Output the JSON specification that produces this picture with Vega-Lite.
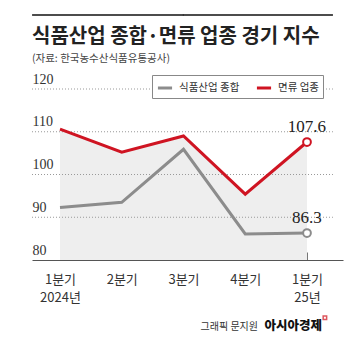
{
  "$schema": "https://vega.github.io/schema/vega-lite/v6.json",
  "width": 311,
  "height": 171,
  "autosize": {"type": "none"},
  "padding": {"left": 32, "top": 89, "right": 8, "bottom": 99},
  "background": "white",
  "config": {"view": {"stroke": null}},
  "datasets": {
    "series": [
      {"q": 0, "series": "식품산업 종합", "value": 92.3},
      {"q": 1, "series": "식품산업 종합", "value": 93.5},
      {"q": 2, "series": "식품산업 종합", "value": 105.9},
      {"q": 3, "series": "식품산업 종합", "value": 86.1},
      {"q": 4, "series": "식품산업 종합", "value": 86.3},
      {"q": 0, "series": "면류 업종", "value": 110.6},
      {"q": 1, "series": "면류 업종", "value": 105.2},
      {"q": 2, "series": "면류 업종", "value": 109.0},
      {"q": 3, "series": "면류 업종", "value": 95.4},
      {"q": 4, "series": "면류 업종", "value": 107.6}
    ],
    "rules": [
      {"kind": "grid", "v": 90, "x0": -0.4534, "x1": 4.42},
      {"kind": "grid", "v": 100, "x0": -0.4534, "x1": 4.42},
      {"kind": "grid", "v": 110, "x0": -0.4534, "x1": 4.42},
      {"kind": "grid", "v": 120, "x0": -0.4534, "x1": 4.42},
      {"kind": "top", "v": 137.3, "x0": -0.452, "x1": 2.0},
      {"kind": "top", "v": 137.3, "x0": 1.99, "x1": 4.42}
    ]
  },
  "layer": [
    {
      "data": {"name": "series"},
      "transform": [{"filter": "datum.series == '면류 업종'"}],
      "mark": {"type": "area", "color": "#eeeeee", "opacity": 1},
      "encoding": {
        "x": {
          "field": "q",
          "type": "quantitative",
          "scale": {"domain": [-0.4534, 4.583], "nice": false, "zero": false},
          "axis": {
            "values": [0, 1, 2, 3, 4],
            "title": null,
            "grid": false,
            "domainColor": "#555555",
            "domainWidth": 1,
            "tickColor": "#777777",
            "tickSize": -8,
            "labelPadding": 21,
            "labelExpr": "datum.value == 0 ? ['1분기', '2024년'] : datum.value == 4 ? ['1분기', '25년'] : (datum.value + 1) + '분기'",
            "labelFont": "Noto Sans CJK KR",
            "labelFontSize": 13,
            "labelColor": "#333333",
            "labelLineHeight": 18,
            "labelBaseline": "top",
            "labelFlush": false
          }
        },
        "y": {
          "field": "value",
          "type": "quantitative",
          "scale": {"domain": [80, 120], "nice": false, "zero": false},
          "axis": {
            "values": [80, 90, 100, 110, 120],
            "title": null,
            "grid": false,
            "domain": false,
            "ticks": false,
            "labelAlign": "left",
            "labelPadding": 0,
            "labelBaseline": "alphabetic",
            "labelOffset": -6,
            "labelFont": "Liberation Sans Narrow",
            "labelFontSize": 14,
            "labelColor": "#333333"
          }
        },
        "y2": {"datum": 80}
      }
    },
    {
      "data": {"name": "rules"},
      "transform": [{"filter": "datum.kind == 'grid'"}],
      "mark": {"type": "rule", "color": "#999999", "strokeWidth": 1, "strokeDash": [1, 2]},
      "encoding": {
        "x": {"field": "x0", "type": "quantitative"},
        "x2": {"field": "x1"},
        "y": {"field": "v", "type": "quantitative"}
      }
    },
    {
      "data": {"name": "rules"},
      "transform": [{"filter": "datum.kind == 'top'"}],
      "mark": {"type": "rule", "color": "#111111", "strokeWidth": 1.5},
      "encoding": {
        "x": {"field": "x0", "type": "quantitative"},
        "x2": {"field": "x1"},
        "y": {"field": "v", "type": "quantitative"}
      }
    },
    {
      "data": {"name": "series"},
      "mark": {"type": "line", "strokeWidth": 3},
      "encoding": {
        "x": {"field": "q", "type": "quantitative"},
        "y": {"field": "value", "type": "quantitative"},
        "color": {
          "field": "series",
          "type": "nominal",
          "scale": {"domain": ["식품산업 종합", "면류 업종"], "range": ["#8c8c8c", "#cf1422"]},
          "legend": {
            "orient": "none",
            "legendX": 120,
            "legendY": -14,
            "direction": "horizontal",
            "title": null,
            "strokeColor": "#888888",
            "fillColor": "white",
            "padding": 4,
            "symbolType": "stroke",
            "symbolStrokeWidth": 3,
            "symbolSize": 200,
            "labelFont": "Noto Sans CJK KR",
            "labelFontSize": 10.5,
            "labelColor": "#333333",
            "labelOffset": 5,
            "columnPadding": 10
          }
        }
      }
    },
    {
      "data": {"name": "series"},
      "transform": [{"filter": "datum.q == 4"}],
      "mark": {"type": "point", "filled": true, "fill": "white", "strokeWidth": 2, "size": 60, "opacity": 1},
      "encoding": {
        "x": {"field": "q", "type": "quantitative"},
        "y": {"field": "value", "type": "quantitative"},
        "stroke": {"field": "series", "type": "nominal", "scale": {"domain": ["식품산업 종합", "면류 업종"], "range": ["#8c8c8c", "#cf1422"]}, "legend": null}
      }
    },
    {
      "data": {"name": "series"},
      "transform": [{"filter": "datum.q == 4"}],
      "mark": {"type": "text", "font": "Liberation Sans Narrow", "fontSize": 17, "color": "#222222", "dy": -15, "align": "center", "baseline": "middle"},
      "encoding": {
        "x": {"field": "q", "type": "quantitative"},
        "y": {"field": "value", "type": "quantitative"},
        "text": {"field": "value", "type": "quantitative", "format": ".1f"}
      }
    },
    {
      "data": {"values": [{"x": -0.4534, "y": 130.76, "t": "식품산업 종합·면류 업종 경기 지수"}]},
      "mark": {"type": "text", "font": "Noto Sans CJK KR", "fontSize": 20, "fontWeight": "bold", "color": "#222222", "baseline": "alphabetic", "align": "left", "clip": false},
      "encoding": {
        "x": {"field": "x", "type": "quantitative"},
        "y": {"field": "y", "type": "quantitative"},
        "text": {"field": "t"}
      }
    },
    {
      "data": {"values": [{"x": -0.4534, "y": 126.4, "t": "(자료: 한국농수산식품유통공사)"}]},
      "mark": {"type": "text", "font": "Noto Sans CJK KR", "fontSize": 10.5, "color": "#444444", "baseline": "alphabetic", "align": "left", "clip": false},
      "encoding": {
        "x": {"field": "x", "type": "quantitative"},
        "y": {"field": "y", "type": "quantitative"},
        "text": {"field": "t"}
      }
    },
    {
      "data": {"values": [{"x": 3.207, "y": 63.6, "t": "그래픽 문지원"}]},
      "mark": {"type": "text", "font": "Noto Sans CJK KR", "fontSize": 10, "color": "#333333", "baseline": "alphabetic", "align": "right", "clip": false},
      "encoding": {
        "x": {"field": "x", "type": "quantitative"},
        "y": {"field": "y", "type": "quantitative"},
        "text": {"field": "t"}
      }
    },
    {
      "data": {"values": [{"x": 4.243, "y": 63.6, "t": "아시아경제"}]},
      "mark": {"type": "text", "font": "Noto Sans CJK KR", "fontSize": 12.5, "fontWeight": 900, "color": "#111111", "baseline": "alphabetic", "align": "right", "clip": false},
      "encoding": {
        "x": {"field": "x", "type": "quantitative"},
        "y": {"field": "y", "type": "quantitative"},
        "text": {"field": "t"}
      }
    },
    {
      "data": {"values": [{"x": 4.29, "y": 66.5}]},
      "mark": {"type": "square", "filled": false, "color": "#d0111b", "size": 12, "strokeWidth": 1.5, "clip": false},
      "encoding": {
        "x": {"field": "x", "type": "quantitative"},
        "y": {"field": "y", "type": "quantitative"}
      }
    }
  ]
}
